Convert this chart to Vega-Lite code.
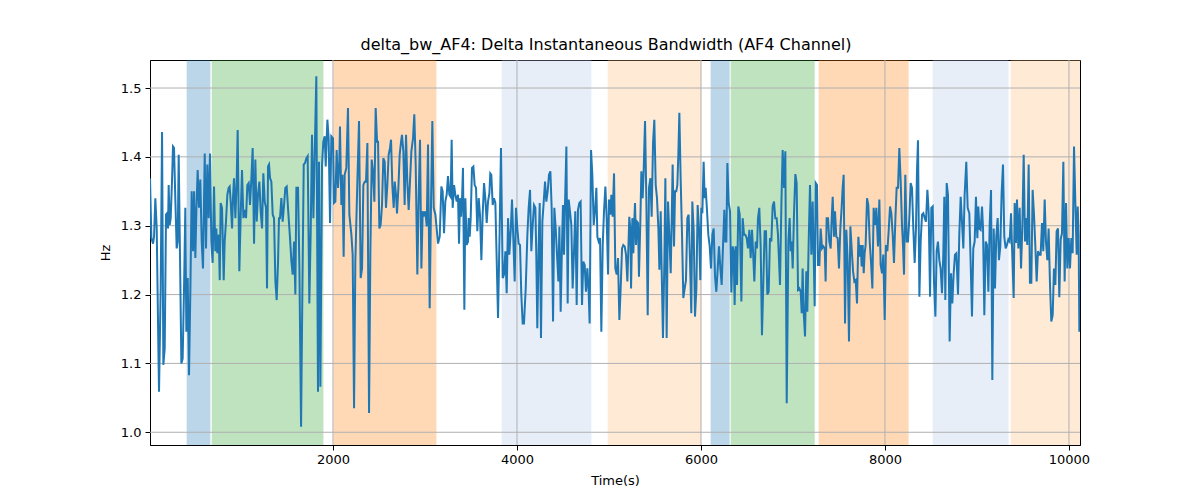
{
  "$schema": "https://vega.github.io/schema/vega-lite/v6.json",
  "width": 930,
  "height": 385,
  "autosize": {"type": "none"},
  "padding": {"left": 150, "top": 60, "right": 120, "bottom": 55},
  "title": {
    "text": "delta_bw_AF4: Delta Instantaneous Bandwidth (AF4 Channel)",
    "fontSize": 16,
    "fontWeight": "normal",
    "color": "black",
    "anchor": "middle",
    "offset": 7,
    "dx": -9
  },
  "config": {
    "font": "DejaVu Sans",
    "view": {"stroke": "black", "strokeWidth": 1},
    "axis": {
      "domainColor": "black",
      "tickColor": "black",
      "tickSize": 5,
      "labelColor": "black",
      "labelFontSize": 13,
      "titleFontSize": 13,
      "titleFontWeight": "normal",
      "titleColor": "black",
      "grid": false
    }
  },
  "datasets": {
    "bands": [
      {"start": 410, "end": 667, "state": "s0"},
      {"start": 682, "end": 1896, "state": "s1"},
      {"start": 2004, "end": 3124, "state": "s2"},
      {"start": 3834, "end": 4809, "state": "s3"},
      {"start": 4986, "end": 6004, "state": "s4"},
      {"start": 6105, "end": 6312, "state": "s0"},
      {"start": 6323, "end": 7236, "state": "s1"},
      {"start": 7279, "end": 8257, "state": "s2"},
      {"start": 8518, "end": 9344, "state": "s3"},
      {"start": 9366, "end": 10120, "state": "s4"}
    ],
    "xgrid": [{"t": 2000}, {"t": 4000}, {"t": 6000}, {"t": 8000}, {"t": 10000}],
    "ygrid": [{"hz": 1.0}, {"hz": 1.1}, {"hz": 1.2}, {"hz": 1.3}, {"hz": 1.4}, {"hz": 1.5}],
    "series": [
      {"t": 11, "hz": 1.369}, {"t": 26, "hz": 1.282}, {"t": 44, "hz": 1.274}, {"t": 55, "hz": 1.284},
      {"t": 69, "hz": 1.340}, {"t": 84, "hz": 1.296}, {"t": 98, "hz": 1.161}, {"t": 109, "hz": 1.059},
      {"t": 127, "hz": 1.209}, {"t": 142, "hz": 1.436}, {"t": 156, "hz": 1.098}, {"t": 171, "hz": 1.122},
      {"t": 185, "hz": 1.316}, {"t": 196, "hz": 1.318}, {"t": 207, "hz": 1.296}, {"t": 214, "hz": 1.359},
      {"t": 225, "hz": 1.301}, {"t": 236, "hz": 1.311}, {"t": 250, "hz": 1.364}, {"t": 261, "hz": 1.415},
      {"t": 272, "hz": 1.413}, {"t": 287, "hz": 1.335}, {"t": 301, "hz": 1.267}, {"t": 312, "hz": 1.277},
      {"t": 323, "hz": 1.403}, {"t": 337, "hz": 1.258}, {"t": 352, "hz": 1.100}, {"t": 366, "hz": 1.107},
      {"t": 381, "hz": 1.209}, {"t": 395, "hz": 1.326}, {"t": 406, "hz": 1.146}, {"t": 421, "hz": 1.224},
      {"t": 435, "hz": 1.083}, {"t": 450, "hz": 1.209}, {"t": 464, "hz": 1.350}, {"t": 479, "hz": 1.263},
      {"t": 490, "hz": 1.350}, {"t": 504, "hz": 1.253}, {"t": 515, "hz": 1.321}, {"t": 529, "hz": 1.381},
      {"t": 544, "hz": 1.326}, {"t": 558, "hz": 1.367}, {"t": 573, "hz": 1.277}, {"t": 587, "hz": 1.238},
      {"t": 606, "hz": 1.405}, {"t": 620, "hz": 1.267}, {"t": 634, "hz": 1.389}, {"t": 649, "hz": 1.311},
      {"t": 663, "hz": 1.405}, {"t": 678, "hz": 1.277}, {"t": 692, "hz": 1.246}, {"t": 707, "hz": 1.357},
      {"t": 721, "hz": 1.263}, {"t": 732, "hz": 1.296}, {"t": 743, "hz": 1.260}, {"t": 758, "hz": 1.287},
      {"t": 769, "hz": 1.221}, {"t": 779, "hz": 1.333}, {"t": 794, "hz": 1.326}, {"t": 812, "hz": 1.221},
      {"t": 823, "hz": 1.277}, {"t": 837, "hz": 1.306}, {"t": 852, "hz": 1.345}, {"t": 866, "hz": 1.355},
      {"t": 877, "hz": 1.357}, {"t": 888, "hz": 1.335}, {"t": 903, "hz": 1.296}, {"t": 913, "hz": 1.340},
      {"t": 924, "hz": 1.369}, {"t": 939, "hz": 1.311}, {"t": 953, "hz": 1.364}, {"t": 964, "hz": 1.439},
      {"t": 982, "hz": 1.234}, {"t": 997, "hz": 1.316}, {"t": 1011, "hz": 1.381}, {"t": 1026, "hz": 1.311},
      {"t": 1040, "hz": 1.323}, {"t": 1055, "hz": 1.311}, {"t": 1069, "hz": 1.359}, {"t": 1084, "hz": 1.362},
      {"t": 1098, "hz": 1.330}, {"t": 1113, "hz": 1.369}, {"t": 1127, "hz": 1.413}, {"t": 1142, "hz": 1.274},
      {"t": 1156, "hz": 1.396}, {"t": 1171, "hz": 1.306}, {"t": 1185, "hz": 1.345}, {"t": 1200, "hz": 1.364},
      {"t": 1214, "hz": 1.321}, {"t": 1229, "hz": 1.296}, {"t": 1243, "hz": 1.376}, {"t": 1258, "hz": 1.335},
      {"t": 1272, "hz": 1.326}, {"t": 1283, "hz": 1.209}, {"t": 1294, "hz": 1.386}, {"t": 1305, "hz": 1.389},
      {"t": 1316, "hz": 1.369}, {"t": 1330, "hz": 1.364}, {"t": 1345, "hz": 1.316}, {"t": 1359, "hz": 1.311},
      {"t": 1374, "hz": 1.219}, {"t": 1388, "hz": 1.192}, {"t": 1403, "hz": 1.248}, {"t": 1413, "hz": 1.311},
      {"t": 1424, "hz": 1.311}, {"t": 1439, "hz": 1.340}, {"t": 1453, "hz": 1.306}, {"t": 1468, "hz": 1.330},
      {"t": 1482, "hz": 1.355}, {"t": 1497, "hz": 1.357}, {"t": 1511, "hz": 1.326}, {"t": 1533, "hz": 1.282},
      {"t": 1548, "hz": 1.248}, {"t": 1562, "hz": 1.229}, {"t": 1577, "hz": 1.277}, {"t": 1591, "hz": 1.200},
      {"t": 1602, "hz": 1.355}, {"t": 1620, "hz": 1.355}, {"t": 1635, "hz": 1.238}, {"t": 1653, "hz": 1.008},
      {"t": 1667, "hz": 1.200}, {"t": 1682, "hz": 1.389}, {"t": 1696, "hz": 1.391}, {"t": 1711, "hz": 1.398},
      {"t": 1725, "hz": 1.401}, {"t": 1743, "hz": 1.187}, {"t": 1758, "hz": 1.292}, {"t": 1772, "hz": 1.432},
      {"t": 1787, "hz": 1.311}, {"t": 1801, "hz": 1.403}, {"t": 1819, "hz": 1.517}, {"t": 1837, "hz": 1.059},
      {"t": 1848, "hz": 1.393}, {"t": 1863, "hz": 1.066}, {"t": 1881, "hz": 1.389}, {"t": 1895, "hz": 1.422},
      {"t": 1910, "hz": 1.430}, {"t": 1921, "hz": 1.386}, {"t": 1939, "hz": 1.454}, {"t": 1953, "hz": 1.427},
      {"t": 1968, "hz": 1.304}, {"t": 1982, "hz": 1.430}, {"t": 2000, "hz": 1.427}, {"t": 2011, "hz": 1.333},
      {"t": 2026, "hz": 1.335}, {"t": 2040, "hz": 1.410}, {"t": 2055, "hz": 1.355}, {"t": 2069, "hz": 1.393},
      {"t": 2076, "hz": 1.444}, {"t": 2091, "hz": 1.330}, {"t": 2102, "hz": 1.374}, {"t": 2116, "hz": 1.255},
      {"t": 2127, "hz": 1.374}, {"t": 2145, "hz": 1.384}, {"t": 2163, "hz": 1.471}, {"t": 2178, "hz": 1.316},
      {"t": 2200, "hz": 1.287}, {"t": 2214, "hz": 1.258}, {"t": 2229, "hz": 1.035}, {"t": 2243, "hz": 1.248},
      {"t": 2265, "hz": 1.364}, {"t": 2283, "hz": 1.452}, {"t": 2301, "hz": 1.224}, {"t": 2316, "hz": 1.238},
      {"t": 2330, "hz": 1.359}, {"t": 2345, "hz": 1.364}, {"t": 2359, "hz": 1.364}, {"t": 2374, "hz": 1.420},
      {"t": 2392, "hz": 1.028}, {"t": 2406, "hz": 1.258}, {"t": 2421, "hz": 1.396}, {"t": 2435, "hz": 1.379},
      {"t": 2450, "hz": 1.335}, {"t": 2464, "hz": 1.471}, {"t": 2479, "hz": 1.422}, {"t": 2490, "hz": 1.422},
      {"t": 2504, "hz": 1.296}, {"t": 2518, "hz": 1.301}, {"t": 2533, "hz": 1.330}, {"t": 2547, "hz": 1.398},
      {"t": 2562, "hz": 1.393}, {"t": 2576, "hz": 1.326}, {"t": 2591, "hz": 1.359}, {"t": 2605, "hz": 1.403},
      {"t": 2620, "hz": 1.413}, {"t": 2631, "hz": 1.425}, {"t": 2645, "hz": 1.359}, {"t": 2660, "hz": 1.326},
      {"t": 2671, "hz": 1.364}, {"t": 2685, "hz": 1.345}, {"t": 2696, "hz": 1.318}, {"t": 2711, "hz": 1.355},
      {"t": 2725, "hz": 1.403}, {"t": 2740, "hz": 1.422}, {"t": 2750, "hz": 1.432}, {"t": 2765, "hz": 1.408},
      {"t": 2779, "hz": 1.330}, {"t": 2794, "hz": 1.432}, {"t": 2808, "hz": 1.364}, {"t": 2823, "hz": 1.323},
      {"t": 2837, "hz": 1.364}, {"t": 2852, "hz": 1.408}, {"t": 2870, "hz": 1.427}, {"t": 2884, "hz": 1.462},
      {"t": 2899, "hz": 1.389}, {"t": 2917, "hz": 1.229}, {"t": 2932, "hz": 1.345}, {"t": 2946, "hz": 1.425},
      {"t": 2961, "hz": 1.238}, {"t": 2975, "hz": 1.321}, {"t": 2990, "hz": 1.316}, {"t": 3004, "hz": 1.321},
      {"t": 3019, "hz": 1.299}, {"t": 3033, "hz": 1.418}, {"t": 3051, "hz": 1.180}, {"t": 3066, "hz": 1.335},
      {"t": 3080, "hz": 1.452}, {"t": 3095, "hz": 1.326}, {"t": 3113, "hz": 1.316}, {"t": 3127, "hz": 1.296},
      {"t": 3142, "hz": 1.274}, {"t": 3160, "hz": 1.284}, {"t": 3178, "hz": 1.357}, {"t": 3192, "hz": 1.350},
      {"t": 3207, "hz": 1.289}, {"t": 3221, "hz": 1.335}, {"t": 3236, "hz": 1.345}, {"t": 3250, "hz": 1.372},
      {"t": 3265, "hz": 1.345}, {"t": 3279, "hz": 1.342}, {"t": 3290, "hz": 1.425}, {"t": 3301, "hz": 1.326},
      {"t": 3316, "hz": 1.359}, {"t": 3330, "hz": 1.345}, {"t": 3345, "hz": 1.335}, {"t": 3359, "hz": 1.345},
      {"t": 3370, "hz": 1.274}, {"t": 3381, "hz": 1.340}, {"t": 3392, "hz": 1.313}, {"t": 3403, "hz": 1.340},
      {"t": 3413, "hz": 1.384}, {"t": 3428, "hz": 1.178}, {"t": 3439, "hz": 1.340}, {"t": 3453, "hz": 1.272},
      {"t": 3468, "hz": 1.277}, {"t": 3475, "hz": 1.311}, {"t": 3486, "hz": 1.284}, {"t": 3497, "hz": 1.311},
      {"t": 3511, "hz": 1.384}, {"t": 3526, "hz": 1.386}, {"t": 3540, "hz": 1.359}, {"t": 3555, "hz": 1.355},
      {"t": 3569, "hz": 1.292}, {"t": 3584, "hz": 1.340}, {"t": 3598, "hz": 1.316}, {"t": 3613, "hz": 1.250},
      {"t": 3627, "hz": 1.316}, {"t": 3642, "hz": 1.362}, {"t": 3656, "hz": 1.340}, {"t": 3671, "hz": 1.304},
      {"t": 3685, "hz": 1.335}, {"t": 3700, "hz": 1.347}, {"t": 3710, "hz": 1.376}, {"t": 3721, "hz": 1.374},
      {"t": 3736, "hz": 1.330}, {"t": 3750, "hz": 1.340}, {"t": 3765, "hz": 1.333}, {"t": 3779, "hz": 1.253},
      {"t": 3794, "hz": 1.166}, {"t": 3812, "hz": 1.296}, {"t": 3826, "hz": 1.413}, {"t": 3845, "hz": 1.224},
      {"t": 3859, "hz": 1.229}, {"t": 3874, "hz": 1.263}, {"t": 3888, "hz": 1.202}, {"t": 3903, "hz": 1.311},
      {"t": 3917, "hz": 1.258}, {"t": 3932, "hz": 1.292}, {"t": 3946, "hz": 1.338}, {"t": 3960, "hz": 1.282},
      {"t": 3975, "hz": 1.219}, {"t": 3989, "hz": 1.326}, {"t": 4004, "hz": 1.296}, {"t": 4018, "hz": 1.274},
      {"t": 4033, "hz": 1.272}, {"t": 4047, "hz": 1.200}, {"t": 4062, "hz": 1.158}, {"t": 4076, "hz": 1.158},
      {"t": 4095, "hz": 1.209}, {"t": 4113, "hz": 1.287}, {"t": 4127, "hz": 1.326}, {"t": 4142, "hz": 1.352},
      {"t": 4156, "hz": 1.263}, {"t": 4171, "hz": 1.301}, {"t": 4185, "hz": 1.330}, {"t": 4200, "hz": 1.326},
      {"t": 4210, "hz": 1.258}, {"t": 4221, "hz": 1.151}, {"t": 4236, "hz": 1.272}, {"t": 4247, "hz": 1.333},
      {"t": 4261, "hz": 1.137}, {"t": 4276, "hz": 1.306}, {"t": 4290, "hz": 1.333}, {"t": 4305, "hz": 1.364},
      {"t": 4319, "hz": 1.335}, {"t": 4334, "hz": 1.350}, {"t": 4348, "hz": 1.374}, {"t": 4363, "hz": 1.379},
      {"t": 4377, "hz": 1.326}, {"t": 4392, "hz": 1.161}, {"t": 4406, "hz": 1.326}, {"t": 4421, "hz": 1.296},
      {"t": 4435, "hz": 1.258}, {"t": 4450, "hz": 1.219}, {"t": 4461, "hz": 1.299}, {"t": 4475, "hz": 1.175},
      {"t": 4490, "hz": 1.277}, {"t": 4500, "hz": 1.330}, {"t": 4511, "hz": 1.258}, {"t": 4522, "hz": 1.330},
      {"t": 4537, "hz": 1.415}, {"t": 4551, "hz": 1.187}, {"t": 4562, "hz": 1.338}, {"t": 4576, "hz": 1.321},
      {"t": 4591, "hz": 1.301}, {"t": 4605, "hz": 1.209}, {"t": 4620, "hz": 1.263}, {"t": 4634, "hz": 1.321},
      {"t": 4649, "hz": 1.185}, {"t": 4663, "hz": 1.323}, {"t": 4678, "hz": 1.333}, {"t": 4692, "hz": 1.335},
      {"t": 4707, "hz": 1.185}, {"t": 4721, "hz": 1.248}, {"t": 4736, "hz": 1.243}, {"t": 4750, "hz": 1.204},
      {"t": 4765, "hz": 1.238}, {"t": 4779, "hz": 1.204}, {"t": 4790, "hz": 1.158}, {"t": 4805, "hz": 1.410},
      {"t": 4819, "hz": 1.374}, {"t": 4834, "hz": 1.301}, {"t": 4848, "hz": 1.321}, {"t": 4863, "hz": 1.355},
      {"t": 4874, "hz": 1.284}, {"t": 4888, "hz": 1.277}, {"t": 4903, "hz": 1.282}, {"t": 4917, "hz": 1.146},
      {"t": 4932, "hz": 1.272}, {"t": 4946, "hz": 1.321}, {"t": 4961, "hz": 1.357}, {"t": 4975, "hz": 1.311},
      {"t": 4990, "hz": 1.229}, {"t": 5000, "hz": 1.338}, {"t": 5015, "hz": 1.316}, {"t": 5026, "hz": 1.345},
      {"t": 5040, "hz": 1.313}, {"t": 5055, "hz": 1.376}, {"t": 5069, "hz": 1.238}, {"t": 5084, "hz": 1.229},
      {"t": 5098, "hz": 1.253}, {"t": 5113, "hz": 1.163}, {"t": 5127, "hz": 1.209}, {"t": 5142, "hz": 1.267},
      {"t": 5156, "hz": 1.272}, {"t": 5171, "hz": 1.270}, {"t": 5185, "hz": 1.258}, {"t": 5200, "hz": 1.219},
      {"t": 5221, "hz": 1.313}, {"t": 5232, "hz": 1.296}, {"t": 5240, "hz": 1.209}, {"t": 5254, "hz": 1.311},
      {"t": 5265, "hz": 1.260}, {"t": 5276, "hz": 1.309}, {"t": 5283, "hz": 1.333}, {"t": 5294, "hz": 1.272},
      {"t": 5305, "hz": 1.306}, {"t": 5316, "hz": 1.304}, {"t": 5326, "hz": 1.226}, {"t": 5341, "hz": 1.306},
      {"t": 5352, "hz": 1.379}, {"t": 5366, "hz": 1.340}, {"t": 5377, "hz": 1.379}, {"t": 5392, "hz": 1.452},
      {"t": 5406, "hz": 1.340}, {"t": 5421, "hz": 1.170}, {"t": 5435, "hz": 1.355}, {"t": 5450, "hz": 1.369},
      {"t": 5464, "hz": 1.313}, {"t": 5479, "hz": 1.420}, {"t": 5493, "hz": 1.454}, {"t": 5508, "hz": 1.359},
      {"t": 5522, "hz": 1.340}, {"t": 5537, "hz": 1.296}, {"t": 5548, "hz": 1.236}, {"t": 5562, "hz": 1.321},
      {"t": 5573, "hz": 1.234}, {"t": 5587, "hz": 1.137}, {"t": 5602, "hz": 1.248}, {"t": 5613, "hz": 1.369},
      {"t": 5627, "hz": 1.137}, {"t": 5642, "hz": 1.335}, {"t": 5656, "hz": 1.287}, {"t": 5671, "hz": 1.231},
      {"t": 5682, "hz": 1.309}, {"t": 5692, "hz": 1.389}, {"t": 5707, "hz": 1.270}, {"t": 5718, "hz": 1.350},
      {"t": 5732, "hz": 1.350}, {"t": 5743, "hz": 1.359}, {"t": 5754, "hz": 1.403}, {"t": 5765, "hz": 1.464},
      {"t": 5779, "hz": 1.369}, {"t": 5794, "hz": 1.287}, {"t": 5808, "hz": 1.195}, {"t": 5823, "hz": 1.209},
      {"t": 5837, "hz": 1.221}, {"t": 5852, "hz": 1.311}, {"t": 5866, "hz": 1.316}, {"t": 5881, "hz": 1.248},
      {"t": 5895, "hz": 1.173}, {"t": 5906, "hz": 1.335}, {"t": 5921, "hz": 1.292}, {"t": 5935, "hz": 1.168},
      {"t": 5950, "hz": 1.209}, {"t": 5964, "hz": 1.330}, {"t": 5979, "hz": 1.296}, {"t": 5993, "hz": 1.221},
      {"t": 6004, "hz": 1.326}, {"t": 6015, "hz": 1.318}, {"t": 6029, "hz": 1.393}, {"t": 6040, "hz": 1.340},
      {"t": 6051, "hz": 1.355}, {"t": 6066, "hz": 1.321}, {"t": 6080, "hz": 1.287}, {"t": 6095, "hz": 1.270},
      {"t": 6109, "hz": 1.238}, {"t": 6124, "hz": 1.287}, {"t": 6138, "hz": 1.296}, {"t": 6153, "hz": 1.226},
      {"t": 6167, "hz": 1.204}, {"t": 6182, "hz": 1.238}, {"t": 6196, "hz": 1.270}, {"t": 6211, "hz": 1.238},
      {"t": 6225, "hz": 1.214}, {"t": 6240, "hz": 1.272}, {"t": 6254, "hz": 1.323}, {"t": 6265, "hz": 1.277},
      {"t": 6276, "hz": 1.277}, {"t": 6287, "hz": 1.391}, {"t": 6301, "hz": 1.333}, {"t": 6316, "hz": 1.321},
      {"t": 6330, "hz": 1.203}, {"t": 6345, "hz": 1.270}, {"t": 6355, "hz": 1.263}, {"t": 6366, "hz": 1.185},
      {"t": 6377, "hz": 1.270}, {"t": 6392, "hz": 1.214}, {"t": 6406, "hz": 1.328}, {"t": 6421, "hz": 1.316},
      {"t": 6439, "hz": 1.190}, {"t": 6453, "hz": 1.311}, {"t": 6468, "hz": 1.287}, {"t": 6482, "hz": 1.287},
      {"t": 6497, "hz": 1.282}, {"t": 6511, "hz": 1.267}, {"t": 6526, "hz": 1.294}, {"t": 6540, "hz": 1.253},
      {"t": 6555, "hz": 1.294}, {"t": 6566, "hz": 1.263}, {"t": 6580, "hz": 1.219}, {"t": 6595, "hz": 1.277},
      {"t": 6609, "hz": 1.267}, {"t": 6620, "hz": 1.311}, {"t": 6634, "hz": 1.326}, {"t": 6649, "hz": 1.270},
      {"t": 6663, "hz": 1.141}, {"t": 6678, "hz": 1.219}, {"t": 6692, "hz": 1.292}, {"t": 6707, "hz": 1.292},
      {"t": 6721, "hz": 1.200}, {"t": 6736, "hz": 1.204}, {"t": 6750, "hz": 1.282}, {"t": 6765, "hz": 1.277},
      {"t": 6779, "hz": 1.328}, {"t": 6794, "hz": 1.335}, {"t": 6808, "hz": 1.311}, {"t": 6823, "hz": 1.311},
      {"t": 6837, "hz": 1.287}, {"t": 6859, "hz": 1.214}, {"t": 6874, "hz": 1.330}, {"t": 6888, "hz": 1.410},
      {"t": 6903, "hz": 1.355}, {"t": 6917, "hz": 1.408}, {"t": 6932, "hz": 1.042}, {"t": 6950, "hz": 1.277},
      {"t": 6964, "hz": 1.311}, {"t": 6975, "hz": 1.263}, {"t": 6986, "hz": 1.277}, {"t": 6997, "hz": 1.238},
      {"t": 7011, "hz": 1.316}, {"t": 7026, "hz": 1.375}, {"t": 7040, "hz": 1.362}, {"t": 7055, "hz": 1.207},
      {"t": 7069, "hz": 1.209}, {"t": 7084, "hz": 1.204}, {"t": 7095, "hz": 1.173}, {"t": 7105, "hz": 1.238},
      {"t": 7116, "hz": 1.175}, {"t": 7131, "hz": 1.139}, {"t": 7145, "hz": 1.234}, {"t": 7156, "hz": 1.175},
      {"t": 7171, "hz": 1.277}, {"t": 7185, "hz": 1.359}, {"t": 7200, "hz": 1.258}, {"t": 7214, "hz": 1.335},
      {"t": 7225, "hz": 1.258}, {"t": 7236, "hz": 1.183}, {"t": 7247, "hz": 1.362}, {"t": 7261, "hz": 1.359},
      {"t": 7272, "hz": 1.243}, {"t": 7287, "hz": 1.243}, {"t": 7301, "hz": 1.296}, {"t": 7316, "hz": 1.267},
      {"t": 7330, "hz": 1.270}, {"t": 7345, "hz": 1.267}, {"t": 7355, "hz": 1.219}, {"t": 7366, "hz": 1.311},
      {"t": 7381, "hz": 1.311}, {"t": 7395, "hz": 1.277}, {"t": 7410, "hz": 1.267}, {"t": 7421, "hz": 1.311},
      {"t": 7432, "hz": 1.342}, {"t": 7446, "hz": 1.284}, {"t": 7457, "hz": 1.321}, {"t": 7471, "hz": 1.284},
      {"t": 7486, "hz": 1.282}, {"t": 7500, "hz": 1.238}, {"t": 7515, "hz": 1.296}, {"t": 7529, "hz": 1.326},
      {"t": 7540, "hz": 1.355}, {"t": 7551, "hz": 1.374}, {"t": 7566, "hz": 1.158}, {"t": 7580, "hz": 1.294},
      {"t": 7595, "hz": 1.248}, {"t": 7609, "hz": 1.132}, {"t": 7624, "hz": 1.299}, {"t": 7638, "hz": 1.267},
      {"t": 7653, "hz": 1.234}, {"t": 7667, "hz": 1.219}, {"t": 7682, "hz": 1.221}, {"t": 7696, "hz": 1.187},
      {"t": 7711, "hz": 1.284}, {"t": 7725, "hz": 1.255}, {"t": 7736, "hz": 1.272}, {"t": 7747, "hz": 1.241},
      {"t": 7758, "hz": 1.272}, {"t": 7769, "hz": 1.231}, {"t": 7779, "hz": 1.260}, {"t": 7790, "hz": 1.272},
      {"t": 7805, "hz": 1.340}, {"t": 7819, "hz": 1.330}, {"t": 7834, "hz": 1.277}, {"t": 7848, "hz": 1.248},
      {"t": 7863, "hz": 1.209}, {"t": 7877, "hz": 1.326}, {"t": 7892, "hz": 1.301}, {"t": 7906, "hz": 1.326},
      {"t": 7924, "hz": 1.270}, {"t": 7939, "hz": 1.338}, {"t": 7953, "hz": 1.243}, {"t": 7968, "hz": 1.231},
      {"t": 7982, "hz": 1.258}, {"t": 7997, "hz": 1.163}, {"t": 8011, "hz": 1.272}, {"t": 8026, "hz": 1.263},
      {"t": 8040, "hz": 1.292}, {"t": 8055, "hz": 1.328}, {"t": 8069, "hz": 1.318}, {"t": 8084, "hz": 1.287},
      {"t": 8098, "hz": 1.246}, {"t": 8113, "hz": 1.309}, {"t": 8127, "hz": 1.355}, {"t": 8142, "hz": 1.355},
      {"t": 8156, "hz": 1.413}, {"t": 8171, "hz": 1.364}, {"t": 8185, "hz": 1.301}, {"t": 8196, "hz": 1.272},
      {"t": 8207, "hz": 1.229}, {"t": 8221, "hz": 1.374}, {"t": 8236, "hz": 1.277}, {"t": 8250, "hz": 1.277},
      {"t": 8265, "hz": 1.311}, {"t": 8279, "hz": 1.362}, {"t": 8294, "hz": 1.355}, {"t": 8308, "hz": 1.296},
      {"t": 8323, "hz": 1.246}, {"t": 8337, "hz": 1.296}, {"t": 8348, "hz": 1.379}, {"t": 8359, "hz": 1.424},
      {"t": 8374, "hz": 1.197}, {"t": 8388, "hz": 1.277}, {"t": 8403, "hz": 1.316}, {"t": 8417, "hz": 1.318},
      {"t": 8432, "hz": 1.311}, {"t": 8446, "hz": 1.306}, {"t": 8461, "hz": 1.352}, {"t": 8475, "hz": 1.321},
      {"t": 8490, "hz": 1.197}, {"t": 8504, "hz": 1.326}, {"t": 8519, "hz": 1.328}, {"t": 8533, "hz": 1.219},
      {"t": 8548, "hz": 1.168}, {"t": 8562, "hz": 1.263}, {"t": 8576, "hz": 1.277}, {"t": 8591, "hz": 1.250},
      {"t": 8605, "hz": 1.238}, {"t": 8620, "hz": 1.202}, {"t": 8634, "hz": 1.258}, {"t": 8645, "hz": 1.342},
      {"t": 8656, "hz": 1.192}, {"t": 8671, "hz": 1.362}, {"t": 8685, "hz": 1.345}, {"t": 8703, "hz": 1.132},
      {"t": 8718, "hz": 1.231}, {"t": 8732, "hz": 1.187}, {"t": 8747, "hz": 1.231}, {"t": 8761, "hz": 1.258},
      {"t": 8776, "hz": 1.260}, {"t": 8794, "hz": 1.200}, {"t": 8808, "hz": 1.287}, {"t": 8823, "hz": 1.342},
      {"t": 8837, "hz": 1.306}, {"t": 8852, "hz": 1.267}, {"t": 8866, "hz": 1.345}, {"t": 8884, "hz": 1.393},
      {"t": 8899, "hz": 1.326}, {"t": 8917, "hz": 1.318}, {"t": 8931, "hz": 1.248}, {"t": 8946, "hz": 1.168},
      {"t": 8960, "hz": 1.267}, {"t": 8975, "hz": 1.277}, {"t": 8989, "hz": 1.342}, {"t": 9004, "hz": 1.282},
      {"t": 9015, "hz": 1.328}, {"t": 9026, "hz": 1.296}, {"t": 9040, "hz": 1.294}, {"t": 9055, "hz": 1.328},
      {"t": 9066, "hz": 1.296}, {"t": 9080, "hz": 1.170}, {"t": 9095, "hz": 1.277}, {"t": 9109, "hz": 1.272},
      {"t": 9124, "hz": 1.204}, {"t": 9138, "hz": 1.301}, {"t": 9153, "hz": 1.352}, {"t": 9167, "hz": 1.076},
      {"t": 9182, "hz": 1.296}, {"t": 9196, "hz": 1.209}, {"t": 9210, "hz": 1.284}, {"t": 9225, "hz": 1.311},
      {"t": 9239, "hz": 1.250}, {"t": 9254, "hz": 1.270}, {"t": 9268, "hz": 1.347}, {"t": 9283, "hz": 1.389},
      {"t": 9297, "hz": 1.284}, {"t": 9312, "hz": 1.267}, {"t": 9326, "hz": 1.272}, {"t": 9341, "hz": 1.280},
      {"t": 9355, "hz": 1.277}, {"t": 9370, "hz": 1.318}, {"t": 9384, "hz": 1.258}, {"t": 9399, "hz": 1.195},
      {"t": 9410, "hz": 1.333}, {"t": 9424, "hz": 1.275}, {"t": 9435, "hz": 1.338}, {"t": 9450, "hz": 1.267},
      {"t": 9464, "hz": 1.326}, {"t": 9479, "hz": 1.238}, {"t": 9493, "hz": 1.296}, {"t": 9508, "hz": 1.403},
      {"t": 9522, "hz": 1.277}, {"t": 9533, "hz": 1.311}, {"t": 9547, "hz": 1.272}, {"t": 9562, "hz": 1.389},
      {"t": 9576, "hz": 1.217}, {"t": 9591, "hz": 1.217}, {"t": 9605, "hz": 1.352}, {"t": 9620, "hz": 1.316},
      {"t": 9634, "hz": 1.272}, {"t": 9649, "hz": 1.219}, {"t": 9663, "hz": 1.263}, {"t": 9678, "hz": 1.258},
      {"t": 9692, "hz": 1.258}, {"t": 9707, "hz": 1.304}, {"t": 9721, "hz": 1.263}, {"t": 9736, "hz": 1.338},
      {"t": 9750, "hz": 1.277}, {"t": 9765, "hz": 1.250}, {"t": 9779, "hz": 1.296}, {"t": 9794, "hz": 1.214},
      {"t": 9808, "hz": 1.161}, {"t": 9823, "hz": 1.170}, {"t": 9837, "hz": 1.238}, {"t": 9852, "hz": 1.214},
      {"t": 9866, "hz": 1.292}, {"t": 9881, "hz": 1.296}, {"t": 9895, "hz": 1.196}, {"t": 9910, "hz": 1.280},
      {"t": 9924, "hz": 1.289}, {"t": 9939, "hz": 1.393}, {"t": 9953, "hz": 1.219}, {"t": 9968, "hz": 1.333},
      {"t": 9982, "hz": 1.238}, {"t": 9997, "hz": 1.282}, {"t": 10011, "hz": 1.238}, {"t": 10026, "hz": 1.282},
      {"t": 10040, "hz": 1.260}, {"t": 10055, "hz": 1.415}, {"t": 10069, "hz": 1.335}, {"t": 10084, "hz": 1.258},
      {"t": 10095, "hz": 1.328}, {"t": 10105, "hz": 1.287}, {"t": 10113, "hz": 1.146}
    ]
  },
  "layer": [
    {
      "data": {"name": "bands"},
      "mark": {"type": "rect", "opacity": 0.3, "clip": true},
      "encoding": {
        "x": {
          "field": "start",
          "type": "quantitative",
          "scale": {"domain": [11, 10120], "nice": false, "zero": false},
          "axis": {"values": [2000, 4000, 6000, 8000, 10000], "format": "d", "title": "Time(s)", "labelPadding": 3, "titlePadding": 8}
        },
        "x2": {"field": "end"},
        "color": {
          "field": "state",
          "type": "nominal",
          "scale": {"domain": ["s0", "s1", "s2", "s3", "s4"], "range": ["#1f77b4", "#2ca02c", "#ff7f0e", "#aec7e8", "#ffbb78"]},
          "legend": null
        }
      }
    },
    {
      "data": {"name": "xgrid"},
      "mark": {"type": "rule", "color": "#b0b0b0", "strokeWidth": 1},
      "encoding": {"x": {"field": "t", "type": "quantitative"}}
    },
    {
      "data": {"name": "ygrid"},
      "mark": {"type": "rule", "color": "#b0b0b0", "strokeWidth": 1},
      "encoding": {"y": {"field": "hz", "type": "quantitative"}}
    },
    {
      "data": {"name": "series"},
      "mark": {"type": "line", "color": "#1f77b4", "strokeWidth": 2, "clip": true},
      "encoding": {
        "x": {"field": "t", "type": "quantitative"},
        "y": {
          "field": "hz",
          "type": "quantitative",
          "scale": {"domain": [0.9815, 1.5407], "nice": false, "zero": false},
          "axis": {"values": [1.0, 1.1, 1.2, 1.3, 1.4, 1.5], "format": ".1f", "title": "Hz", "labelPadding": 4, "titlePadding": 8}
        }
      }
    }
  ]
}
